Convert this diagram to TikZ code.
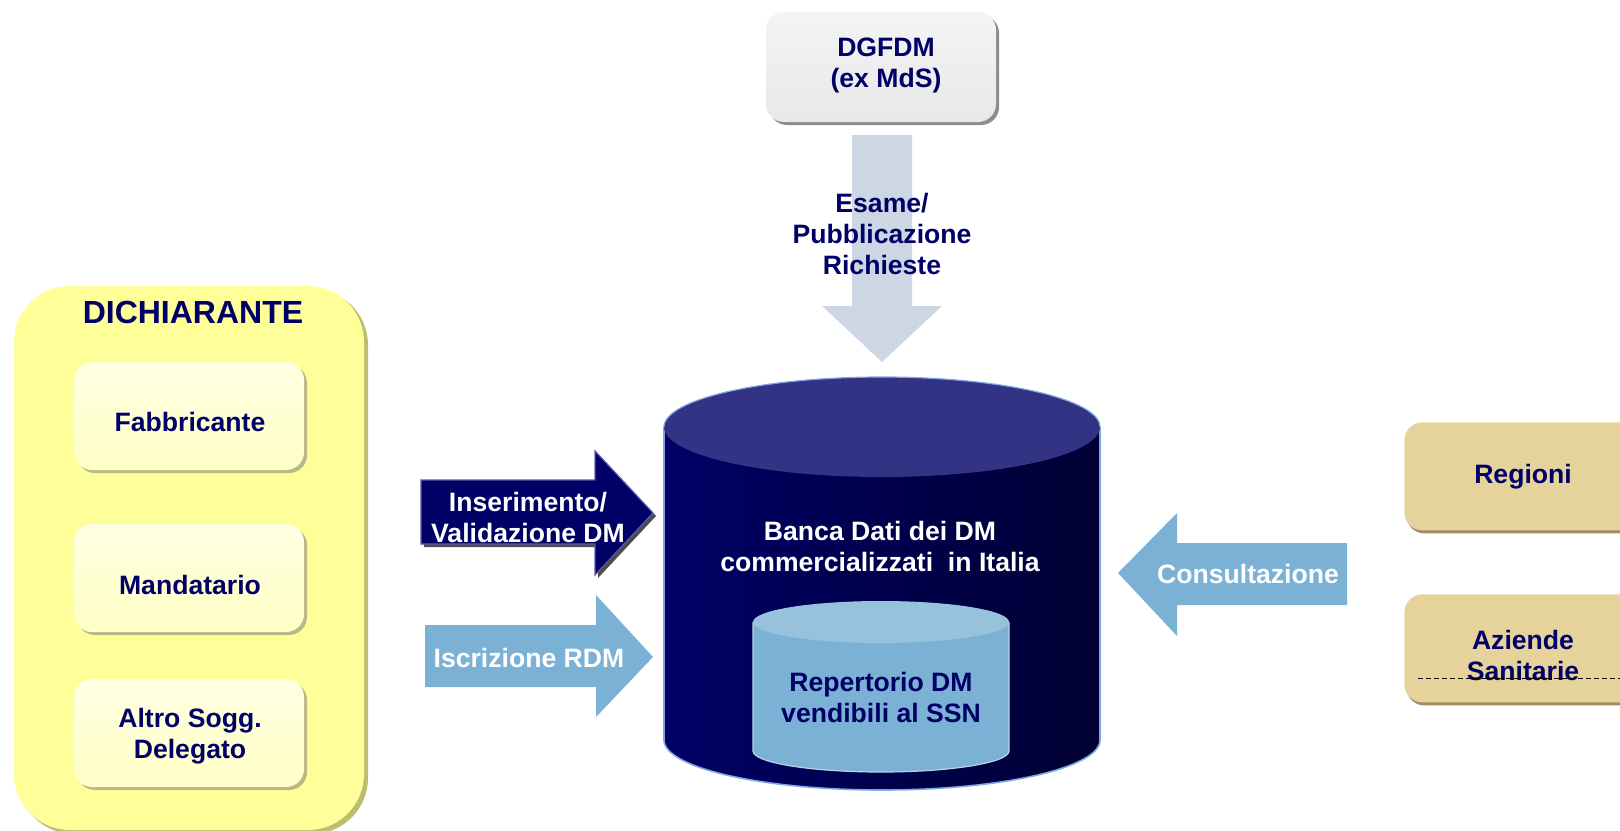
\documentclass[tikz,border=0pt]{standalone}
\usepackage{fontspec}
\setmainfont{Liberation Sans}
\usetikzlibrary{shadows}
\definecolor{navy}{HTML}{000066}
\definecolor{yout}{HTML}{FFFF99}
\definecolor{youtsh}{HTML}{BDBD70}
\definecolor{yin}{HTML}{FFFFC6}
\definecolor{yinlt}{HTML}{FFFFE2}
\definecolor{yinsh}{HTML}{B8B888}
\definecolor{greybox}{HTML}{E8E8E8}
\definecolor{greylt}{HTML}{F4F4F4}
\definecolor{greysh}{HTML}{8C8C8C}
\definecolor{downarr}{HTML}{CDD7E4}
\definecolor{lblue}{HTML}{7BB1D4}
\definecolor{cyltop}{HTML}{98C2DC}
\definecolor{bigtop}{HTML}{333385}
\definecolor{bigl}{HTML}{000066}
\definecolor{bigr}{HTML}{000033}
\definecolor{bigedge}{HTML}{7FA8E0}
\definecolor{tan}{HTML}{E6D29B}
\definecolor{tansh}{HTML}{9E8E60}
\definecolor{arredge}{HTML}{5A5AA8}
\begin{document}
\begin{tikzpicture}[x=0.5pt,y=0.5pt,
  lbl/.style={font=\bfseries\fontsize{13.3}{15.5}\selectfont, align=center, text=navy, inner sep=0pt},
  wlbl/.style={lbl, text=white},
  ybox/.style={rounded corners=9pt, minimum width=115pt, minimum height=54pt, inner sep=0pt,
     top color=yinlt, bottom color=yin,
     drop shadow={shadow xshift=1.5pt, shadow yshift=-1.5pt, fill=yinsh, opacity=1}},
  tbox/.style={rounded corners=9pt, minimum width=120pt, minimum height=54pt, inner sep=0pt, fill=tan,
     drop shadow={shadow xshift=1pt, shadow yshift=-1.5pt, fill=tansh, opacity=1}},
  gbox/.style={rounded corners=9pt, minimum width=115pt, minimum height=55pt, inner sep=0pt,
     top color=greylt, bottom color=greybox,
     drop shadow={shadow xshift=1.5pt, shadow yshift=-1.5pt, fill=greysh, opacity=1}}
]
\useasboundingbox (0,0) rectangle (1620,-830);

% ---- DICHIARANTE container ----
\fill[youtsh, rounded corners=28pt] (18,-289) rectangle (368,-834);
\fill[yout, rounded corners=28pt] (14,-286) rectangle (364,-830);
\node[lbl, font=\bfseries\fontsize{16}{18}\selectfont] (dich) at (193,-312) {DICHIARANTE};

\node[ybox] (fabbox) at (189,-416) {};
\node[lbl] (fab) at (190,-422) {Fabbricante};
\node[ybox] (manbox) at (189,-578) {};
\node[lbl] (man) at (190,-585) {Mandatario};
\node[ybox] (altbox) at (189,-733) {};
\node[lbl] (alt) at (190,-736) {Altro Sogg.\\Delegato};

% ---- DGFDM ----
\node[gbox] (dgbox) at (881,-67) {};
\node[lbl] (dg) at (886,-65) {DGFDM\\(ex MdS)};

% ---- down arrow ----
\fill[downarr] (852,-135) -- (912,-135) -- (912,-306) -- (942,-306) -- (882,-362)
   -- (822,-306) -- (852,-306) -- cycle;
\node[lbl] (esame) at (882,-234) {Esame/\\Pubblicazione\\Richieste};

% ---- big cylinder ----
\path[left color=bigl, right color=bigr] (664,-427) -- (664,-740)
   arc[start angle=180, end angle=360, x radius=218, y radius=50] -- (1100,-427) -- cycle;
\draw[bigedge, line width=0.8pt] (664,-427) -- (664,-740)
   arc[start angle=180, end angle=360, x radius=218, y radius=50] -- (1100,-427);
\fill[bigtop] (882,-427) ellipse[x radius=218, y radius=50];
\draw[bigedge, line width=0.6pt] (664,-427) arc[start angle=180, end angle=0, x radius=218, y radius=50];
\node[wlbl] (banca) at (880,-546) {Banca Dati dei DM\\commercializzati\ \ in Italia};

% ---- inner cylinder ----
\path[fill=lblue] (753,-622) -- (753,-751)
   arc[start angle=180, end angle=360, x radius=128, y radius=21] -- (1009,-622) -- cycle;
\draw[cyltop!70!white, line width=0.6pt] (753,-622) -- (753,-751)
   arc[start angle=180, end angle=360, x radius=128, y radius=21] -- (1009,-622);
\fill[cyltop] (881,-622) ellipse[x radius=128, y radius=21];
\node[lbl] (rep) at (881,-697) {Repertorio DM\\vendibili al SSN};

% ---- Inserimento arrow ----
\fill[black!70] (424,-483) -- (598,-483) -- (598,-454) -- (656,-516) -- (598,-578)
   -- (598,-547) -- (424,-547) -- cycle;
\fill[navy, draw=arredge, line width=0.6pt] (421,-480) -- (595,-480) -- (595,-451) -- (653,-513)
   -- (595,-575) -- (595,-544) -- (421,-544) -- cycle;
\node[wlbl] (ins) at (528,-517) {Inserimento/\\Validazione DM};

% ---- Iscrizione arrow ----
\fill[lblue] (425,-625) -- (596,-625) -- (596,-595) -- (653,-657) -- (596,-717)
   -- (596,-687) -- (425,-687) -- cycle;
\node[wlbl] (isc) at (529,-658) {Iscrizione RDM};

% ---- Consultazione arrow ----
\fill[lblue] (1118,-573) -- (1177,-513) -- (1177,-543) -- (1347,-543) -- (1347,-605)
   -- (1177,-605) -- (1177,-636) -- cycle;
\node[wlbl] (cons) at (1248,-574) {Consultazione};

% ---- right boxes ----
\node[tbox, anchor=north west] (regbox) at (1404,-422) {};
\node[lbl] (reg) at (1523,-477) {Regioni};
\node[tbox, anchor=north west] (azbox) at (1404,-594) {};
\node[lbl] (az) at (1523,-655) {Aziende\\Sanitarie};
\coordinate (dashL) at (1418,-678);
\coordinate (dashR) at (1620,-678);
\draw[black, line width=0.5pt, dash pattern=on 2.5pt off 1.5pt] (dashL) -- (dashR);
\end{tikzpicture}
\end{document}
